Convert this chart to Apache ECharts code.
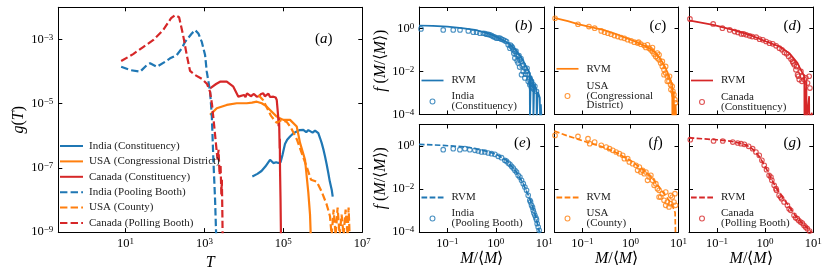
<!DOCTYPE html>
<html><head><meta charset="utf-8">
<script src="https://cdn.jsdelivr.net/npm/echarts@6/dist/echarts.min.js"></script>
<style>html,body{margin:0;padding:0;background:#fff}#c{width:830px;height:276px}</style>
</head><body><div id="c"></div>
<script>
const BLUE = '#1f77b4', ORANGE = '#ff7f0e', RED = '#d62728';
const SERIF = "'Liberation Serif','Times New Roman',serif";

// ---------- Panel (a): [T, g(T)] ----------
const indiaConstituency = [[16400,5.41e-8],[22000,6.5e-8],[28000,8e-8],[35000,1.1e-7],[46030,1.79e-7],[55850,1.41e-7],[66000,1.5e-7],[74700,1.41e-7],[85000,1.5e-7],[95000,2.5e-7],[110000,5.5e-7],[125000,7.5e-7],[147900,9.45e-7],[180000,1.2e-6],[218300,1.35e-6],[260000,1.5e-6],[320700,1.52e-6],[380000,1.3e-6],[430000,1.5e-6],[474000,1.35e-6],[550000,1.25e-6],[635000,1.45e-6],[700000,1.3e-6],[769700,1.2e-6],[850000,8.5e-7],[938400,5.89e-7],[1.05e6,3.5e-7],[1.138e6,2.26e-7],[1.25e6,1.3e-7],[1.377e6,6.9e-8],[1.5e6,3.8e-8],[1.679e6,2.09e-8],[1.78e6,1.27e-8]];
const usaCongressional = [[1394,4.46e-6],[2061,7.2e-6],[3690,9.12e-6],[6607,1.03e-5],[11830,1.03e-5],[16000,1.08e-5],[21220,1.15e-5],[28380,1.03e-5],[36000,8.5e-6],[46030,6.37e-6],[68070,3.94e-6],[100000,3.12e-6],[147900,3.12e-6],[218300,1.93e-6],[264800,6.0e-7],[354300,1.79e-7],[429500,1.69e-8],[474000,3.5e-9],[501000,5e-10]];
const canadaConstituency = [[1394,3.01e-5],[1977,4.09e-5],[2494,4.82e-5],[3690,4.82e-5],[5420,3.37e-5],[7260,1.65e-5],[8010,1.47e-5],[10120,1.86e-5],[11000,1.6e-5],[12000,2.1e-5],[13000,1.86e-5],[15000,1.7e-5],[16140,1.61e-5],[18000,2.0e-5],[21220,1.65e-5],[24000,1.7e-5],[27250,2.0e-5],[31000,2.1e-5],[34000,1.7e-5],[38000,1.86e-5],[42000,2.05e-5],[46030,1.61e-5],[50000,1.6e-5],[55850,1.65e-5],[60000,1.9e-5],[64000,1.55e-5],[68070,1.3e-5],[73460,4.46e-6],[76000,2e-6],[78000,3.5e-6],[79250,1.23e-6],[80500,4e-7],[81500,8e-7],[82450,8.73e-8],[84900,1.02e-8],[87400,5e-10]];
const indiaPolling = [[7.8,1.41e-4],[13.2,1.11e-4],[23.5,9.86e-5],[34.8,1.59e-4],[42.2,1.80e-4],[62.4,1.41e-4],[101,2.01e-4],[135,2.57e-4],[200,3.25e-4],[268,5.25e-4],[325,8.42e-4],[480,1.53e-3],[582,1.95e-3],[705,1.53e-3],[859,8.42e-4],[1042,3.25e-4],[1151,9.86e-5],[1394,2.36e-5],[1540,4.46e-6],[1690,1.79e-7],[1866,1.02e-8],[1977,1.0e-9],[2013,5.7e-10]];
const usaCounty = [[23280,1.86e-5],[30620,1.30e-5],[38640,7.34e-6],[48820,4.15e-6],[68070,2.51e-6],[91030,3.12e-6],[121900,2.70e-6],[156700,1.76e-6],[222300,7.46e-7],[315500,2.21e-7],[398500,1.01e-7],[502500,4.27e-8],[701100,3.70e-8],[938400,1.81e-8],[1.256e6,7.14e-9],[1.52e6,3.10e-9],[1.67e6,8e-10],[1.88e6,5.0e-9],[2.11e6,8e-10],[2.37e6,5.8e-9],[2.66e6,8e-10],[2.99e6,3.5e-9],[3.36e6,8e-10],[3.78e6,5.0e-9],[4.25e6,8e-10],[4.5e6,5.8e-9],[4.77e6,8e-10]];
const canadaPolling = [[7.8,2.12e-4],[15.7,3.49e-4],[28.1,5.77e-4],[50.2,9.5e-4],[90,1.95e-3],[143.5,4.58e-3],[181,5.69e-3],[229,4.93e-3],[289,1.36e-3],[358,3.25e-4],[434,1.04e-4],[582,7.78e-5],[875,5.85e-5],[1170,4.09e-5],[1394,2.31e-5],[1566,9.12e-6],[1762,2.18e-6],[1977,5.21e-7],[2158,1.79e-7],[2286,3.65e-7],[2426,6.1e-8],[2570,1.25e-7],[2692,1.46e-8],[2773,4.28e-8],[2857,3.5e-9],[2904,5.9e-10]];

// ---------- Panels (b)-(g): [M/<M>, f] ----------
const pointsB = [[0.0285,0.96],[0.082,0.86],[0.132,0.86],[0.182,0.86],[0.27,0.77],[0.342,0.67],[0.40,0.67],[0.469,0.60],[0.55,0.60],[0.6,0.58],[0.643,0.54],[0.7,0.53],[0.753,0.51],[0.82,0.47],[0.88,0.42],[0.95,0.40],[1.03,0.354],[1.12,0.36],[1.21,0.354],[1.3,0.32],[1.42,0.296],[1.55,0.27],[1.66,0.248],[1.80,0.174],[1.95,0.122],[2.0,0.17],[2.11,0.146],[2.2,0.13],[2.28,0.102],[2.35,0.07],[2.47,0.0855],[2.47,0.042],[2.6,0.09],[2.67,0.06],[2.75,0.032],[2.89,0.05],[2.89,0.0246],[3.0,0.055],[3.1,0.016],[3.13,0.035],[3.3,0.04],[3.39,0.0294],[3.39,0.0071],[3.5,0.018],[3.67,0.0206],[3.67,0.0101],[3.97,0.0145],[3.97,0.005],[4.1,0.0075],[4.30,0.0101],[4.4,0.014],[4.65,0.0071],[4.65,0.0035],[4.8,0.0045],[5.03,0.005],[5.03,0.00245],[5.2,0.0028],[5.45,0.0035],[5.45,0.00172],[5.7,0.0019],[5.9,0.00245],[6.1,0.0015],[6.38,0.00205],[6.9,0.0012]];
const rvmB = [[0.026,1.38],[0.05,1.33],[0.1,1.22],[0.2,1.05],[0.37,0.86],[0.6,0.65],[0.82,0.51],[1.2,0.34],[1.8,0.21],[2.5,0.11],[3.4,0.042],[4.3,0.016],[5.0,0.0085],[5.04,5e-5],[5.3,0.006],[5.9,0.0035],[5.95,5e-5],[6.2,0.0025],[6.9,0.0014],[6.95,5e-5],[7.4,0.0011],[8.1,6e-4],[8.15,5e-5],[8.5,3e-4],[8.8,5e-5]];
const pointsC = [[0.027,2.99],[0.081,1.58],[0.137,1.23],[0.18,1.03],[0.247,0.77],[0.289,0.67],[0.339,0.60],[0.397,0.54],[0.465,0.47],[0.545,0.42],[0.638,0.38],[0.748,0.35],[0.875,0.30],[1.03,0.27],[1.2,0.23],[1.41,0.21],[1.48,0.23],[1.65,0.187],[1.93,0.162],[2.09,0.131],[2.26,0.174],[2.45,0.122],[2.65,0.102],[2.87,0.0855],[2.87,0.131],[3.1,0.0645],[3.36,0.05],[3.64,0.042],[3.64,0.0716],[3.94,0.035],[3.94,0.06],[4.26,0.0246],[4.61,0.0173],[4.61,0.0295],[4.99,0.0121],[4.99,0.0071],[5.4,0.0085],[5.4,0.0173],[5.85,0.006],[5.85,0.0035],[6.33,0.0035],[6.5,0.006],[6.85,0.00245],[6.95,0.00144],[7.41,0.00205],[7.65,0.0012],[8.02,8.4e-4],[8.41,4.9e-4],[8.68,3.5e-4]];
const rvmC = [[0.026,3.1],[0.05,2.2],[0.081,1.6],[0.15,1.15],[0.27,0.86],[0.5,0.55],[0.81,0.36],[1.3,0.24],[2.1,0.145],[2.8,0.1],[3.4,0.072],[4.3,0.035],[5.4,0.0145],[6.4,0.0055],[7.4,0.0025],[7.45,5e-5],[8.0,0.0012],[8.05,5e-5],[8.7,2.9e-4],[9.0,5e-5]];
const pointsD = [[0.0275,2.78],[0.0835,1.63],[0.13,1.03],[0.184,0.86],[0.233,0.72],[0.273,0.65],[0.32,0.56],[0.358,0.56],[0.406,0.506],[0.476,0.454],[0.54,0.42],[0.653,0.394],[0.766,0.318],[0.897,0.296],[1.05,0.248],[1.23,0.208],[1.44,0.194],[1.69,0.156],[1.98,0.122],[2.24,0.102],[2.51,0.077],[2.8,0.0667],[3.08,0.05],[3.44,0.0377],[3.72,0.0294],[3.85,0.025],[4.03,0.0206],[4.36,0.0121],[4.5,0.017],[4.72,0.0071],[4.9,0.006],[5.11,0.0042],[5.53,0.0101],[5.8,0.0035],[5.98,0.006],[6.5,0.0042],[7.0,0.005],[7.6,0.0029],[8.2,0.006],[8.5,0.0017]];
const rvmD = [[0.026,2.4],[0.0835,1.47],[0.216,0.86],[0.476,0.506],[1.05,0.248],[1.98,0.146],[3.18,0.0716],[4.72,0.0246],[5.5,0.012],[6.5,0.006],[6.55,5e-5],[7.2,0.0035],[7.25,5e-5],[8.2,7.1e-4],[8.25,5e-5],[9.3,1.2e-4],[9.4,5e-5]];
const pointsE = [[0.082,0.675],[0.132,0.75],[0.181,0.675],[0.23,0.75],[0.29,0.675],[0.37,0.63],[0.433,0.585],[0.507,0.526],[0.594,0.526],[0.697,0.472],[0.815,0.44],[0.955,0.41],[1.12,0.33],[1.31,0.287],[1.53,0.216],[1.65,0.2],[1.8,0.162],[1.95,0.14],[2.11,0.113],[2.28,0.095],[2.47,0.0738],[2.67,0.061],[2.89,0.0432],[3.13,0.036],[3.39,0.0253],[3.68,0.0177],[3.97,0.0124],[4.3,0.0087],[4.65,0.00507],[5.03,0.00297],[5.2,0.0025],[5.45,0.00174],[5.7,0.0014],[5.9,0.00102],[6.1,7.7e-4],[6.38,5.96e-4],[6.7,4.6e-4],[6.9,3.75e-4],[7.13,2.44e-4],[7.48,1.71e-4],[7.84,1.2e-4]];
const rvmE = [[0.026,1.2],[0.08,1.07],[0.25,0.9],[0.55,0.63],[1.03,0.41],[1.66,0.216],[2.67,0.062],[3.66,0.0177],[5.03,0.0036],[6.38,7.1e-4],[7.48,1.7e-4],[8.1,8e-5]];
const pointsF = [[0.027,3.1],[0.081,2.8],[0.131,2.19],[0.142,1.28],[0.18,1.53],[0.247,1.07],[0.313,0.9],[0.367,0.75],[0.43,0.63],[0.504,0.526],[0.59,0.44],[0.69,0.368],[0.748,0.258],[0.877,0.258],[0.948,0.18],[1.11,0.151],[1.30,0.126],[1.41,0.0738],[1.53,0.105],[1.65,0.0618],[1.79,0.0738],[1.94,0.0516],[2.1,0.0618],[2.27,0.0253],[2.45,0.0361],[2.66,0.0432],[2.88,0.0253],[3.11,0.0148],[3.37,0.0177],[3.65,0.0104],[3.95,0.00867],[3.95,0.00425],[4.27,0.00425],[4.62,0.00607],[5.0,0.00297],[5.42,0.00174],[5.42,0.0072],[5.86,0.00248],[6.34,0.00146],[6.87,0.00208],[6.87,0.005],[7.43,0.00425],[8.04,0.00248],[8.43,0.00607],[8.7,0.00174]];
const rvmF = [[0.026,5.0],[0.05,2.9],[0.08,2.1],[0.13,1.45],[0.25,0.95],[0.5,0.5],[1.0,0.21],[2.0,0.07],[3.0,0.028],[4.0,0.012],[5.0,0.006],[6.3,0.003],[7.5,0.0016],[8.5,8e-4],[8.7,5e-5]];
const pointsG = [[0.028,1.97],[0.085,1.71],[0.132,1.71],[0.213,1.53],[0.27,1.38],[0.316,1.28],[0.37,1.2],[0.455,0.965],[0.55,0.75],[0.644,0.526],[0.754,0.368],[0.857,0.216],[0.957,0.126],[1.07,0.079],[1.21,0.0432],[1.32,0.036],[1.38,0.0253],[1.54,0.0148],[1.68,0.0104],[1.72,0.00867],[1.95,0.00507],[2.1,0.0042],[2.21,0.00355],[2.47,0.00248],[2.9,0.00174],[3.15,0.0012],[3.4,0.00102],[3.98,5.96e-4],[4.3,4.6e-4],[4.66,4.17e-4],[5.0,3.4e-4],[5.46,2.92e-4],[5.9,2.6e-4],[6.39,2.04e-4],[6.9,1.7e-4],[7.5,1.43e-4],[8.37,1.11e-4]];
const rvmG = [[0.026,2.4],[0.1,1.95],[0.2,1.65],[0.3,1.35],[0.4,1.1],[0.5,0.85],[0.6,0.6],[0.75,0.33],[0.9,0.17],[1.05,0.09],[1.2,0.05],[1.4,0.025],[1.7,0.011],[2.1,0.0055],[2.6,0.0028],[3.3,0.0013],[4.2,6e-4],[5.5,3e-4],[7.0,1.8e-4],[8.5,1.2e-4],[10,8e-5]];

// tick exponents
const ticksAX = [1, 3, 5, 7], ticksAY = [-3, -5, -7, -9];
const ticksRX = [-1, 0, 1], ticksRY = [0, -2, -4];

// ---------- layout ----------
const lg = a => a.map(p => [Math.log10(p[0]), Math.log10(p[1])]);
const sup = n => (n < 0 ? '\u2212' + (-n) : '' + n);
const powLabel = v => '{b|10}{s|' + sup(Math.round(v)) + '}';
const tickRich = {
  b: { fontFamily: SERIF, fontSize: 12.5, lineHeight: 13, color: '#000', fontWeight: 'normal' },
  s: { fontFamily: SERIF, fontSize: 9, lineHeight: 3, verticalAlign: 'top', color: '#000', fontWeight: 'normal' }
};
const nameRich = {
  i: { fontFamily: SERIF, fontStyle: 'italic', fontWeight: 'normal', fontSize: 16, lineHeight: 18, color: '#000' },
  u: { fontFamily: SERIF, fontWeight: 'normal', fontSize: 16, lineHeight: 18, color: '#000' }
};
const F_NAME = '{i|f}{u| (}{i|M}{u|/\u27e8}{i|M}{u|\u27e9)}';
const M_NAME = '{i|M}{u|/\u27e8}{i|M}{u|\u27e9}';

const grids = [
  { left: 58.3, top: 7.3, width: 304, height: 225 },
  { left: 419.3, top: 7, width: 125, height: 107.5 },
  { left: 554.5, top: 7, width: 124, height: 107.5 },
  { left: 689, top: 7, width: 124.3, height: 107.5 },
  { left: 419.3, top: 124.5, width: 125, height: 107.5 },
  { left: 554.5, top: 124.5, width: 124, height: 107.5 },
  { left: 689, top: 124.5, width: 124.3, height: 107.5 }
];
const xAxes = [], yAxes = [];
function addAxes(gi, xr, yr, xt, yt, showX, showY, xName, yName, xGap, yGap) {
  const line = { show: true, onZero: false, lineStyle: { color: '#000', width: 1 } };
  const tick = c => ({ show: true, inside: true, length: 4, customValues: c, lineStyle: { color: '#000', width: 1 } });
  const base = { type: 'value', gridIndex: gi, splitLine: { show: false }, axisLine: line };
  xAxes.push(Object.assign({}, base, { position: 'bottom', min: xr[0], max: xr[1], axisTick: tick(xt),
    axisLabel: { show: showX, customValues: xt, formatter: powLabel, rich: tickRich, margin: 5 },
    name: xName || '', nameLocation: 'middle', nameGap: xGap || 0, nameTextStyle: { rich: nameRich } }));
  xAxes.push(Object.assign({}, base, { position: 'top', min: xr[0], max: xr[1], axisTick: tick(xt), axisLabel: { show: false } }));
  yAxes.push(Object.assign({}, base, { position: 'left', min: yr[0], max: yr[1], axisTick: tick(yt),
    axisLabel: { show: showY, customValues: yt, formatter: powLabel, rich: tickRich, margin: 5 },
    name: yName || '', nameLocation: 'middle', nameGap: yGap || 0, nameTextStyle: { rich: nameRich } }));
  yAxes.push(Object.assign({}, base, { position: 'right', min: yr[0], max: yr[1], axisTick: tick(yt), axisLabel: { show: false } }));
}
addAxes(0, [-0.7, 7], [-9, -2], ticksAX, ticksAY, true, true, '{i|T}', '{i|g}{u|(}{i|T}{u|)}', 13, 31);
const RX = [-1.58, 1], RY = [-4, 1];
addAxes(1, RX, RY, ticksRX, ticksRY, false, true, '', F_NAME, 0, 29);
addAxes(2, RX, RY, ticksRX, ticksRY, false, false);
addAxes(3, RX, RY, ticksRX, ticksRY, false, false);
addAxes(4, RX, RY, ticksRX, ticksRY, true, true, M_NAME, F_NAME, 18, 29);
addAxes(5, RX, RY, ticksRX, ticksRY, true, false, M_NAME, '', 18, 0);
addAxes(6, RX, RY, ticksRX, ticksRY, true, false, M_NAME, '', 18, 0);

const series = [];
const DASH_A = [7.4, 3.2], DASH_R = [5.5, 2.4];
function lineS(name, data, color, gi, dashed, width, dash) {
  series.push({ type: 'line', name, data: lg(data), xAxisIndex: gi * 2, yAxisIndex: gi * 2, showSymbol: false, symbol: 'none',
    lineStyle: { color, width, type: dashed ? dash : 'solid' }, itemStyle: { color }, silent: true, animation: false, z: 3 });
}
function scatS(name, data, color, gi) {
  series.push({ type: 'scatter', name, data: lg(data), xAxisIndex: gi * 2, yAxisIndex: gi * 2, symbol: 'circle', symbolSize: 4.6,
    itemStyle: { color: 'rgba(0,0,0,0)', borderColor: color, borderWidth: 1.1 }, silent: true, animation: false, z: 4 });
}
lineS('India (Constituency)', indiaConstituency, BLUE, 0, false, 2.2);
lineS('USA (Congressional District)', usaCongressional, ORANGE, 0, false, 2.2);
lineS('Canada (Constituency)', canadaConstituency, RED, 0, false, 2.2);
lineS('India (Pooling Booth)', indiaPolling, BLUE, 0, true, 2.2, DASH_A);
lineS('USA (County)', usaCounty, ORANGE, 0, true, 2.2, DASH_A);
lineS('Canada (Polling Booth)', canadaPolling, RED, 0, true, 2.2, DASH_A);

const panels = [
  ['b', rvmB, pointsB, BLUE, 1, false, 'India\n(Constituency)'],
  ['c', rvmC, pointsC, ORANGE, 2, false, 'USA\n(Congressional\nDistrict)'],
  ['d', rvmD, pointsD, RED, 3, false, 'Canada\n(Constituency)'],
  ['e', rvmE, pointsE, BLUE, 4, true, 'India\n(Pooling Booth)'],
  ['f', rvmF, pointsF, ORANGE, 5, true, 'USA\n(County)'],
  ['g', rvmG, pointsG, RED, 6, true, 'Canada\n(Polling Booth)']
];
const labelMap = {};
panels.forEach(p => {
  lineS('RVM_' + p[0], p[1], p[3], p[4], p[5], 1.7, DASH_R);
  scatS('pts_' + p[0], p[2], p[3], p[4]);
  labelMap['RVM_' + p[0]] = 'RVM';
  labelMap['pts_' + p[0]] = p[6];
});

const SOLID_ICON = 'path://M0,0h23v2h-23z';
const DASH_ICON = 'path://M0,0h7.4v2h-7.4zM10.6,0h7.4v2h-7.4zM21.2,0h1.8v2h-1.8z';
const SOLID_ICON_R = 'path://M0,0h22v1.7h-22z';
const DASH_ICON_R = 'path://M0,0h5.5v1.7h-5.5zM7.9,0h5.5v1.7h-5.5zM15.8,0h5.5v1.7h-5.5z';
const RING = 'path://M3,0A3,3 0 1,1 3,6A3,3 0 1,1 3,0ZM3,1.1A1.9,1.9 0 1,0 3,4.9A1.9,1.9 0 1,0 3,1.1Z';

const legends = [{
  orient: 'vertical', left: 60, top: 140.5, padding: 0, itemGap: 4.4, itemWidth: 23, itemHeight: 6, selectedMode: false,
  itemStyle: { borderWidth: 0 },
  textStyle: { fontFamily: SERIF, fontSize: 11, lineHeight: 11, color: '#222', padding: [0, 0, 0, 1] },
  data: [
    { name: 'India (Constituency)', icon: SOLID_ICON, itemStyle: { color: BLUE } },
    { name: 'USA (Congressional District)', icon: SOLID_ICON, itemStyle: { color: ORANGE } },
    { name: 'Canada (Constituency)', icon: SOLID_ICON, itemStyle: { color: RED } },
    { name: 'India (Pooling Booth)', icon: DASH_ICON, itemStyle: { color: BLUE } },
    { name: 'USA (County)', icon: DASH_ICON, itemStyle: { color: ORANGE } },
    { name: 'Canada (Polling Booth)', icon: DASH_ICON, itemStyle: { color: RED } }
  ]
}];
const legPos = { b: [421.5, 75, 5, 10], c: [556.5, 63.3, 6.7, 9.5], d: [691, 75, 5.5, 10], e: [421.5, 192, 5, 10], f: [556.5, 192, 5, 10], g: [691, 192, 5, 10] };
panels.forEach(p => {
  const lp = legPos[p[0]];
  legends.push({
    orient: 'vertical', left: lp[0], top: lp[1], padding: 0, itemGap: lp[2], itemWidth: 22, itemHeight: 6, selectedMode: false,
    itemStyle: { borderWidth: 0 },
    formatter: n => labelMap[n],
    textStyle: { fontFamily: SERIF, fontSize: 11, lineHeight: lp[3], color: '#222', padding: [0, 0, 0, 3] },
    data: [
      { name: 'RVM_' + p[0], icon: p[5] ? DASH_ICON_R : SOLID_ICON_R, itemStyle: { color: p[3] } },
      { name: 'pts_' + p[0], icon: RING, itemStyle: { color: p[3] } }
    ]
  });
});

const panelRich = {
  p: { fontFamily: SERIF, fontSize: 15, lineHeight: 16, color: '#000', fontWeight: 'normal' },
  i: { fontFamily: SERIF, fontStyle: 'italic', fontSize: 15, lineHeight: 16, color: '#000', fontWeight: 'normal' }
};
const panelTags = [['a', 315, 31], ['b', 515, 18], ['c', 649.5, 18], ['d', 783.5, 18], ['e', 514, 135.5], ['f', 648.5, 135.5], ['g', 783.5, 135.5]];
const titles = panelTags.map(t => ({ text: '{p|(}{i|' + t[0] + '}{p|)}', left: t[1], top: t[2], padding: 0,
  textStyle: { fontWeight: 'normal', rich: panelRich } }));

const chart = echarts.init(document.getElementById('c'), null, { renderer: 'canvas' });
chart.setOption({
  backgroundColor: '#fff', animation: false,
  title: titles, grid: grids, xAxis: xAxes, yAxis: yAxes, legend: legends, series
});
</script></body></html>
